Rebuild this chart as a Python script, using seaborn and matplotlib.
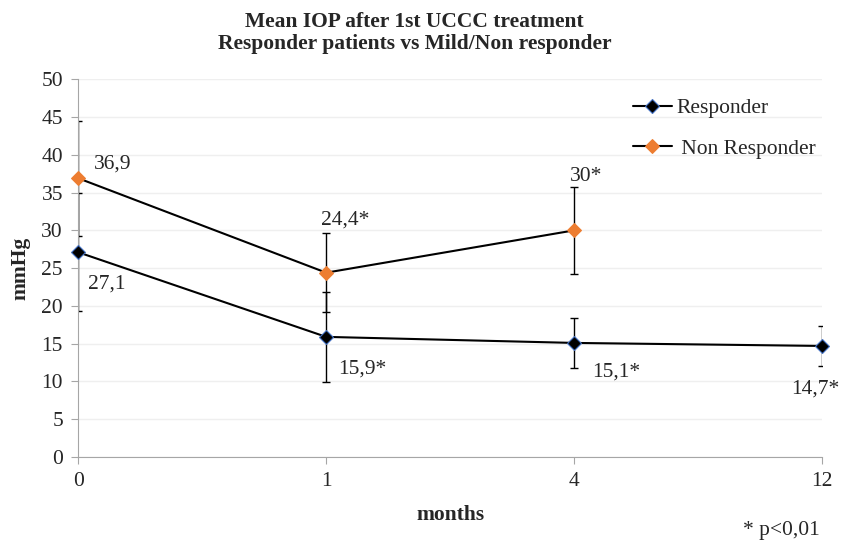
import numpy as np
import pandas as pd
import matplotlib
matplotlib.use("Agg")
import matplotlib.pyplot as plt
import seaborn as sns

# -------------------- DATA --------------------
months = ["0", "1", "4", "12"]
responder = [27.1, 15.9, 15.1, 14.7]
responder_sd = [7.8, 6.0, 3.3, 2.6]
responder_labels = ["27,1", "15,9*", "15,1*", "14,7*"]
non_responder = [36.9, 24.4, 30.0]
non_responder_sd = [7.6, 5.2, 5.8]
non_responder_labels = ["36,9", "24,4*", "30*"]

resp_df = pd.DataFrame({"pos": range(len(responder)), "iop": responder})
non_df = pd.DataFrame({"pos": range(len(non_responder)), "iop": non_responder})

# -------------------- STYLE --------------------
sns.set_style("white")
plt.rcParams["font.family"] = ["Liberation Serif", "DejaVu Serif"]
FS = 15.5

fig = plt.figure(figsize=(8.48, 5.45), dpi=100)
ax = fig.add_axes([0.0923, 0.1615, 0.877, 0.693])

# error bars first so markers sit on top
for df, sd in [(resp_df, responder_sd), (non_df, non_responder_sd)]:
    ax.errorbar(df["pos"], df["iop"], yerr=sd, fmt="none",
                ecolor="black", elinewidth=1, capsize=3, capthick=1, zorder=2)

sns.lineplot(data=resp_df, x="pos", y="iop", ax=ax, color="black", lw=1.5,
             marker="D", markersize=7, markerfacecolor="black",
             markeredgecolor="#4472c4", markeredgewidth=0.8,
             label="Responder", zorder=3, clip_on=False)
sns.lineplot(data=non_df, x="pos", y="iop", ax=ax, color="black", lw=1.5,
             marker="D", markersize=7.5, markerfacecolor="#ed7d31",
             markeredgecolor="#ed7d31", label=" Non Responder", zorder=3,
             clip_on=False)

# data labels (offsets in points)
resp_offsets = [(7, -23, "left"), (9, -23, "left"), (13, -21, "left"), (-5, -31, "center")]
for i, (v, lab) in enumerate(zip(responder, responder_labels)):
    dx, dy, ha = resp_offsets[i]
    ax.annotate(lab, (i, v), xytext=(dx, dy), textcoords="offset points",
                ha=ha, va="center", fontsize=FS)
non_offsets = [(11, 10), (-4, 38), (-3, 39)]
for i, (v, lab) in enumerate(zip(non_responder, non_responder_labels)):
    dx, dy = non_offsets[i]
    ax.annotate(lab, (i, v), xytext=(dx, dy), textcoords="offset points",
                ha="left", va="center", fontsize=FS)

# -------------------- AXES --------------------
ax.set_xlim(0, len(months) - 1)
ax.set_ylim(0, 50)
ax.set_yticks(np.arange(0, 51, 5))
ax.set_xticks(range(len(months)))
ax.set_xticklabels(months)
ax.tick_params(axis="both", labelsize=FS, length=5, color="#a6a6a6",
               direction="out", left=True, bottom=True, pad=6)
ax.yaxis.grid(True, color="#efefef", lw=1)
ax.xaxis.grid(False)
for side in ["top", "right"]:
    ax.spines[side].set_visible(False)
for side in ["left", "bottom"]:
    ax.spines[side].set_color("#a6a6a6")
ax.set_axisbelow(True)

ax.set_xlabel("months", fontsize=FS, fontweight="bold")
ax.set_ylabel("mmHg", fontsize=FS, fontweight="bold")
ax.xaxis.set_label_coords(0.5, -0.128)
ax.yaxis.set_label_coords(-0.0645, 0.5)

fig.text(0.489, 0.94, "Mean IOP after 1st UCCC treatment\nResponder patients vs Mild/Non responder",
         ha="center", va="center", fontsize=FS, fontweight="bold", linespacing=1.15)
fig.text(0.967, 0.026, "* p<0,01", ha="right", va="center", fontsize=FS)

leg = ax.legend(loc="upper left", bbox_to_anchor=(633 / 848, 1 - 98 / 545),
                bbox_transform=fig.transFigure, frameon=False, fontsize=FS,
                handlelength=1.8, handletextpad=0.2, labelspacing=0.95,
                borderpad=0, borderaxespad=0)

fig.savefig("out.png", dpi=100)
